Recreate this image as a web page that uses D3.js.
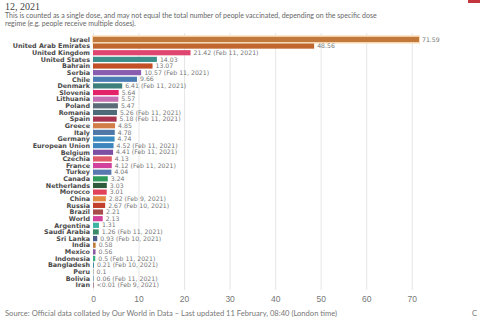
<!DOCTYPE html>
<html>
<head>
<meta charset="utf-8">
<script src="https://cdn.jsdelivr.net/npm/d3@7/dist/d3.min.js"></script>
<style>
  html, body { margin: 0; padding: 0; background: #fff; }
  svg { display: block; font-family: Lato, "Noto Sans", sans-serif; }
</style>
</head>
<body>
<svg id="chart" width="480" height="322"></svg>
<script>
// Vaccine doses administered per 100 people, latest available date
const countries = [
  "Israel", "United Arab Emirates", "United Kingdom", "United States", "Bahrain",
  "Serbia", "Chile", "Denmark", "Slovenia", "Lithuania", "Poland", "Romania",
  "Spain", "Greece", "Italy", "Germany", "European Union", "Belgium", "Czechia",
  "France", "Turkey", "Canada", "Netherlands", "Morocco", "China", "Russia",
  "Brazil", "World", "Argentina", "Saudi Arabia", "Sri Lanka", "India", "Mexico",
  "Indonesia", "Bangladesh", "Peru", "Bolivia", "Iran"
];
const values = [
  71.59, 48.56, 21.42, 14.03, 13.07,
  10.57, 9.66, 6.41, 5.64, 5.57, 5.47, 5.26,
  5.18, 4.85, 4.78, 4.74, 4.52, 4.41, 4.13,
  4.12, 4.04, 3.24, 3.03, 3.01, 2.82, 2.67,
  2.21, 2.13, 1.31, 1.26, 0.93, 0.58, 0.56,
  0.5, 0.21, 0.1, 0.06, 0.005
];
const valueLabels = [
  "71.59", "48.56", "21.42 (Feb 11, 2021)", "14.03", "13.07",
  "10.57 (Feb 11, 2021)", "9.66", "6.41 (Feb 11, 2021)", "5.64", "5.57", "5.47", "5.26 (Feb 11, 2021)",
  "5.18 (Feb 11, 2021)", "4.85", "4.78", "4.74", "4.52 (Feb 11, 2021)", "4.41 (Feb 11, 2021)", "4.13",
  "4.12 (Feb 11, 2021)", "4.04", "3.24", "3.03", "3.01", "2.82 (Feb 9, 2021)", "2.67 (Feb 10, 2021)",
  "2.21", "2.13", "1.31", "1.26 (Feb 11, 2021)", "0.93 (Feb 10, 2021)", "0.58", "0.56",
  "0.5 (Feb 11, 2021)", "0.21 (Feb 10, 2021)", "0.1", "0.06 (Feb 11, 2021)", "<0.01 (Feb 9, 2021)"
];
const colors = [
  "#c27a3c", "#c0672f", "#e0456f", "#3b8e8a", "#c24f26",
  "#8a5cb0", "#4b7db2", "#3e7f7b", "#e3226a", "#c46fb1", "#5b6b78", "#4d6a78",
  "#a8354f", "#d27d48", "#4f78a6", "#3a8cc0", "#3d86bd", "#7c4fa2", "#e05a6a",
  "#d2429c", "#5a78b0", "#2f9a5a", "#2f5b3d", "#e0425a", "#e38a42", "#c2402b",
  "#a84b4b", "#d2429c", "#3ab3a2", "#3a8a6a", "#4a5a8a", "#c07a3a", "#8a5aa0",
  "#3ab080", "#3a8aa0", "#a0a0a0", "#4a8ab0", "#8a4a6a"
];
const xTicks = [0, 10, 20, 30, 40, 50, 60, 70];

const svg = d3.select("#chart");

// Header
svg.append("text")
  .attr("x", 5).attr("y", 9.5)
  .attr("font-family", "'Liberation Serif', 'DejaVu Serif', serif")
  .attr("font-size", 10).attr("fill", "#444")
  .text("12, 2021");
svg.append("rect").attr("x", 468).attr("y", 0).attr("width", 12).attr("height", 3).attr("fill", "#c4363e");

const sub = svg.append("g").attr("fill", "#666").attr("font-size", 7);
sub.append("text").attr("x", 5).attr("y", 17.5)
  .text("This is counted as a single dose, and may not equal the total number of people vaccinated, depending on the specific dose");
sub.append("text").attr("x", 5).attr("y", 26)
  .text("regime (e.g. people receive multiple doses).");

// Scales
const x = d3.scaleLinear().domain([0, 71.59]).range([93, 419]);
const y = d3.scaleBand().domain(countries).range([36.2, 288.3]).paddingInner(0.22).paddingOuter(0.1);

// Grid and axis
const axis = d3.axisBottom(x).tickValues(xTicks).tickSize(-(290 - 33)).tickPadding(5);
const gAxis = svg.append("g").attr("transform", "translate(0,290)").call(axis);
gAxis.select(".domain").remove();
gAxis.selectAll(".tick line").attr("stroke", "#e6e6e6").attr("stroke-width", 1);
gAxis.selectAll(".tick text").attr("fill", "#777").attr("font-size", 8.5).attr("dy", "0.8em");

// Highlight behind the first row
svg.append("rect")
  .attr("x", x(0) - 1).attr("y", y(countries[0]) - 1.5)
  .attr("width", x(values[0]) - x(0) + 2).attr("height", y.bandwidth() + 3)
  .attr("fill", "#f8dcb8");

// Bars
svg.append("g").selectAll("rect").data(countries).join("rect")
  .attr("x", x(0))
  .attr("y", d => y(d))
  .attr("width", (d, i) => Math.max(0.6, x(values[i]) - x(0)))
  .attr("height", y.bandwidth())
  .attr("fill", (d, i) => colors[i]);

// Country names
svg.append("g").selectAll("text").data(countries).join("text")
  .attr("x", 90)
  .attr("y", d => y(d) + y.bandwidth() / 2)
  .attr("dy", "0.35em")
  .attr("text-anchor", "end")
  .attr("font-family", "'DejaVu Sans', sans-serif")
  .attr("font-size", 6.4).attr("font-weight", 700).attr("fill", "#4a4a4a")
  .text(d => d);

// Value labels
svg.append("g").selectAll("text").data(countries).join("text")
  .attr("x", (d, i) => Math.max(x(values[i]), x(0) + 0.6) + 3)
  .attr("y", d => y(d) + y.bandwidth() / 2)
  .attr("dy", "0.35em")
  .attr("font-family", "'DejaVu Sans', sans-serif")
  .attr("font-size", 6.2).attr("fill", "#777")
  .text((d, i) => valueLabels[i]);

// Footer
svg.append("text").attr("x", 5).attr("y", 316)
  .attr("font-size", 7.6).attr("fill", "#777")
  .text("Source: Official data collated by Our World in Data \u2013 Last updated 11 February, 08:40 (London time)");
svg.append("text").attr("x", 472).attr("y", 316)
  .attr("font-size", 7.6).attr("fill", "#777").text("C");
</script>
</body>
</html>
